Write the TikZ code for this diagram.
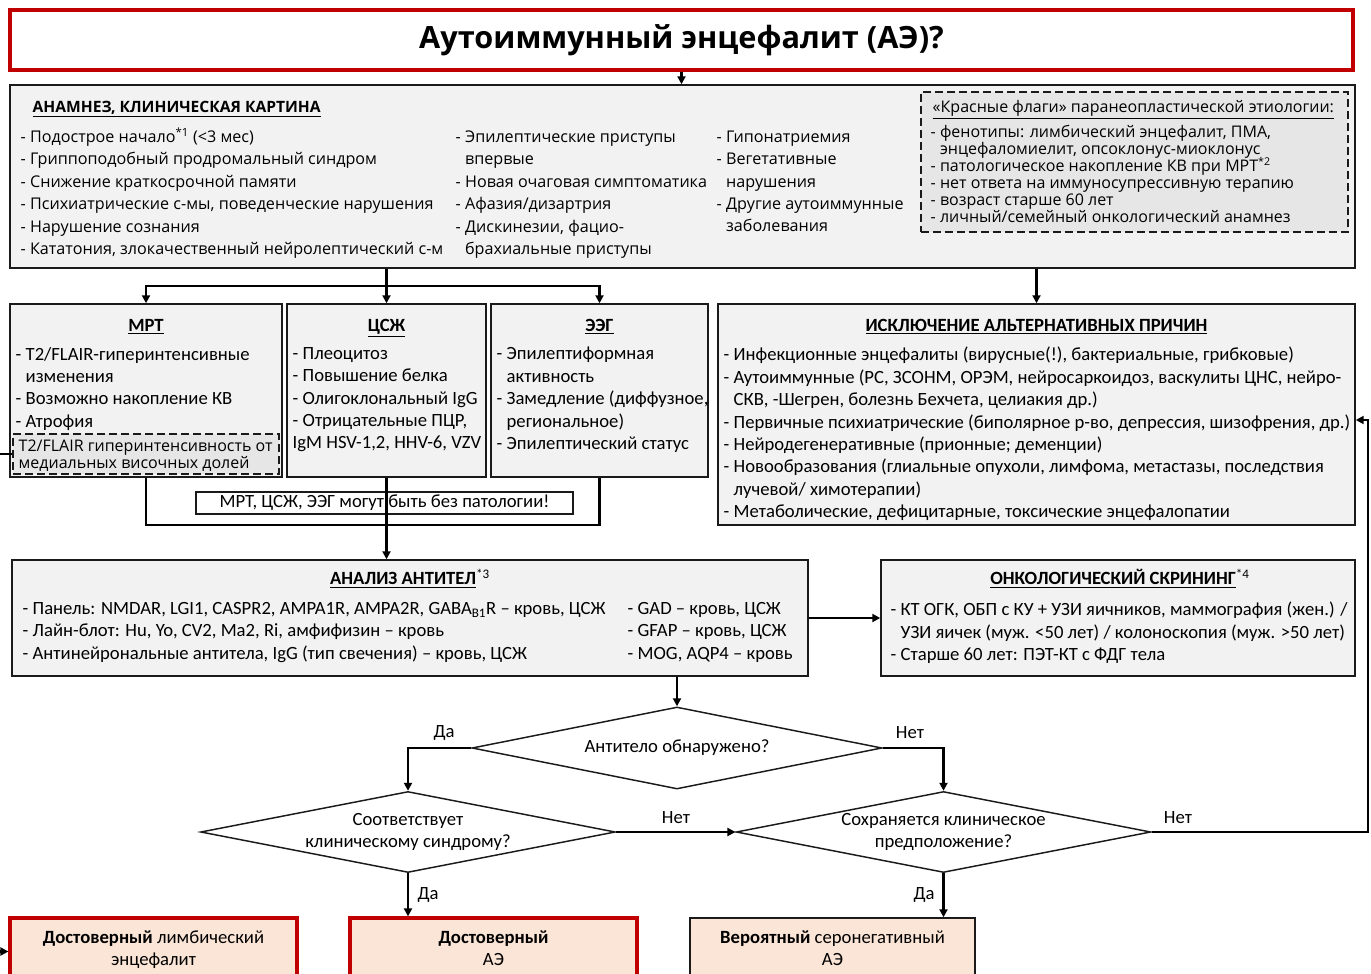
\documentclass[tikz,border=0pt]{standalone}
\usepackage{fontspec}
\setmainfont{Carlito}
\newfontfamily\segoe{Open Sans}
\usetikzlibrary{arrows.meta, shapes.geometric, fit}
\definecolor{cred}{HTML}{C00000}
\definecolor{cfill}{HTML}{F2F2F2}
\definecolor{cflag}{HTML}{E6E6E6}
\definecolor{cpeach}{HTML}{FBE5D6}
\definecolor{cdark}{HTML}{1A1A1A}
\newcommand\indl{\phantom{- }}
\newcommand\fnref[1]{\smash{\textsuperscript{#1}}}
\tikzset{
  every picture/.style={line width=1.1pt},
  box/.style={draw=cdark, fill=#1, inner sep=0pt, align=center},
  box/.default=cfill,
  redbox/.style={box=cpeach, draw=cred, line width=2.4pt},
  dbox/.style={box=cflag, dash pattern=on 6pt off 3pt},
  txt/.style={inner sep=0pt, anchor=north west, align=left, font=\fontsize{14}{16.8}\selectfont, execute at begin node=\strut},
  seg/.style={txt, font=\segoe\fontsize{12.1}{16.8}\selectfont},
  flag/.style={txt, font=\segoe\fontsize{12}{12.75}\selectfont},
  head/.style={txt, anchor=north, font=\bfseries\fontsize{14}{16.8}\selectfont},
  dia/.style={draw=cdark, diamond, aspect=5, inner sep=0pt, align=center, font=\fontsize{14}{16.8}\selectfont},
  arrow/.style={-{Triangle[length=6pt, width=6pt]}, line width=1.9pt},
  line/.style={line width=1.9pt},
  lbl/.style={inner sep=0pt, font=\fontsize{14}{16.8}\selectfont},
}

\begin{document}
\begin{tikzpicture}[x=0.75pt, y=-0.75pt]
  \useasboundingbox (0,0) rectangle (1371,974);
  \node[box=white, draw=cred, line width=2.8pt, fit={(10,10) (1353,70)}] (title) {};
  \node[inner sep=0pt, font=\segoe\bfseries\fontsize{23}{27}\selectfont] (titlet) at (681.5,40) {Аутоиммунный энцефалит (АЭ)?};

  % anamnesis
  \node[box, fit={(10,85) (1355,268)}] (anam) {};
  \node[seg, font=\segoe\bfseries\fontsize{11.7}{16.8}\selectfont] (anamhd) at (32,96) {\underline{АНАМНЕЗ, КЛИНИЧЕСКАЯ КАРТИНА}};
  \node[seg] (anam1) at (20,130) {- Подострое начало\fnref{*1} (<3 мес)\\- Гриппоподобный продромальный синдром\\- Снижение краткосрочной памяти\\- Психиатрические с-мы, поведенческие нарушения\\- Нарушение сознания\\- Кататония, злокачественный нейролептический с-м};
  \node[seg] (anam2) at (455,130) {- Эпилептические приступы\\\indl впервые\\- Новая очаговая симптоматика\\- Афазия/дизартрия\\- Дискинезии, фацио-\\\indl брахиальные приступы};
  \node[seg] (anam3) at (716,130) {- Гипонатриемия\\- Вегетативные\\\indl нарушения\\- Другие аутоиммунные\\\indl заболевания};
  \node[dbox, fit={(921,92) (1348,232)}] (flags) {};
  \node[flag] (flagshd) at (932,99.5) {\underline{«Красные флаги» паранеопластической этиологии:}};
  \node[flag] (flags1) at (930,124.5) {- фенотипы: лимбический энцефалит, ПМА,\\\indl энцефаломиелит, опсоклонус-миоклонус\\- патологическое накопление КВ при МРТ\fnref{*2}\\- нет ответа на иммуносупрессивную терапию\\- возраст старше 60 лет\\- личный/семейный онкологический анамнез};

  % investigations
  \node[box, fit={(10,304) (282,477)}] (mrt) {};
  \node[box, fit={(287,304) (486,477)}] (csf) {};
  \node[box, fit={(491,304) (708,477)}] (eeg) {};
  \node[box, fit={(718,304) (1355,525)}] (excl) {};
  \node[head] (mrthd) at (146,315) {\underline{МРТ}};
  \node[head] (csfhd) at (386.5,315) {\underline{ЦСЖ}};
  \node[head] (eeghd) at (599.5,315) {\underline{ЭЭГ}};
  \node[head] (exclhd) at (1036.5,315) {\underline{ИСКЛЮЧЕНИЕ АЛЬТЕРНАТИВНЫХ ПРИЧИН}};
  \node[txt] (mrt1) at (15,346.5) {- T2/FLAIR-гиперинтенсивные\\\indl изменения\\- Возможно накопление КВ\\- Атрофия};
  \node[dbox, fit={(13,434) (279,474)}] (mtl) {};
  \node[flag] (mtl1) at (18,439.5) {T2/FLAIR гиперинтенсивность от\\медиальных височных долей};
  \node[txt] (csf1) at (292,346.5) {- Плеоцитоз\\- Повышение белка\\- Олигоклональный IgG\\- Отрицательные ПЦР,\\IgM HSV-1,2, HHV-6, VZV};
  \node[txt] (eeg1) at (496,346.5) {- Эпилептиформная\\\indl активность\\- Замедление (диффузное,\\\indl региональное)\\- Эпилептический статус};
  \node[txt] (excl1) at (723,346.5) {- Инфекционные энцефалиты (вирусные(!), бактериальные, грибковые)\\- Аутоиммунные (РС, ЗСОНМ, ОРЭМ, нейросаркоидоз, васкулиты ЦНС, нейро-\\\indl СКВ, -Шегрен, болезнь Бехчета, целиакия др.)\\- Первичные психиатрические (биполярное р-во, депрессия, шизофрения, др.)\\- Нейродегенеративные (прионные; деменции)\\- Новообразования (глиальные опухоли, лимфома, метастазы, последствия\\\indl лучевой/ химотерапии)\\- Метаболические, дефицитарные, токсические энцефалопатии};
  \node[box=white, line width=0.8pt, fit={(196,492) (573,514)}] (note) {};
  \node[lbl] (notet) at (384.5,503) {МРТ, ЦСЖ, ЭЭГ могут быть без патологии!};

  % antibodies, screening
  \node[box, fit={(12,560) (808,676)}] (ab) {};
  \node[box, fit={(881,560) (1355,676)}] (onc) {};
  \node[head] (abhd) at (410,568) {\underline{АНАЛИЗ АНТИТЕЛ}\textsuperscript{\mdseries*3}};
  \node[head] (onchd) at (1120,568) {\underline{ОНКОЛОГИЧЕСКИЙ СКРИНИНГ}\textsuperscript{\mdseries*4}};
  \node[txt] (ab1) at (22,601.5) {- Панель: NMDAR, LGI1, CASPR2, AMPA1R, AMPA2R, GABA\textsubscript{B1}R – кровь, ЦСЖ\\- Лайн-блот: Hu, Yo, CV2, Ma2, Ri, амфифизин – кровь\\- Антинейрональные антитела, IgG (тип свечения) – кровь, ЦСЖ};
  \node[txt] (ab2) at (627,601.5) {- GAD – кровь, ЦСЖ\\- GFAP – кровь, ЦСЖ\\- MOG, AQP4 – кровь};
  \node[txt] (onc1) at (890,601.5) {- КТ ОГК, ОБП с КУ + УЗИ яичников, маммография (жен.) /\\\indl УЗИ яичек (муж. <50 лет) / колоноскопия (муж. >50 лет)\\- Старше 60 лет: ПЭТ-КТ с ФДГ тела};

  % decisions
  \node[dia, minimum width=307.5pt, minimum height=61.5pt] (d1) at (677,748) {Антитело обнаружено?};
  \node[dia, minimum width=311pt, minimum height=60.75pt] (d2) at (408,832) {Соответствует\\клиническому синдрому?};
  \node[dia, minimum width=311pt, minimum height=60.75pt] (d3) at (943.5,832) {Сохраняется клиническое\\предположение?};

  % outcomes
  \node[redbox, fit={(10,918) (297,985)}] (lim) {};
  \node[redbox, fit={(350,918) (637,985)}] (ae) {};
  \node[box=cpeach, fit={(690,918) (975,985)}] (sero) {};
  \node[txt, anchor=north, align=center] (limt) at (153.5,930) {\textbf{Достоверный} лимбический\\энцефалит};
  \node[txt, anchor=north, align=center] (aet) at (493.5,930) {\textbf{Достоверный}\\АЭ};
  \node[txt, anchor=north, align=center] (serot) at (832.5,930) {\textbf{Вероятный} серонегативный\\АЭ};

  % connectors
  \coordinate (j1) at (386.5,286);
  \coordinate (j2) at (386.5,525);
  \coordinate (lft) at (-3,0);
  \coordinate (rgt) at (1368,420);
  \draw[arrow] (title.south) -- (title.south |- anam.north);
  \draw[line] (anam.south -| j1) -- (j1);
  \draw[arrow] (j1) -| (mrt.north);
  \draw[arrow] (j1) -| (eeg.north);
  \draw[arrow] (j1) -- (csf.north);
  \draw[arrow] (anam.south -| excl.north) -- (excl.north);
  \draw[line] (mrt.south) |- (j2) -| (eeg.south);
  \draw[arrow] (csf.south) -- (csf.south |- ab.north);
  \draw[arrow] (ab.east) -- (onc.west);
  \draw[arrow] (ab.south -| d1.north) -- (d1.north);
  \draw[arrow] (d1.west) -| (d2.north);
  \draw[arrow] (d1.east) -| (d3.north);
  \draw[arrow] (d2.east) -- (d3.west);
  \draw[arrow] (d3.east) -| (rgt) -- (rgt -| excl.east);
  \draw[arrow] (d2.south) -- (d2.south |- ae.north);
  \draw[arrow] (d3.south) -- (d3.south |- sero.north);
  \draw[arrow] (mtl.west) -- (mtl.west -| lft) |- (lim.west);
  \node[lbl] (yes1) at (444,733) {Да};
  \node[lbl] (no1) at (910,733) {Нет};
  \node[lbl] (no2) at (676,818) {Нет};
  \node[lbl] (no3) at (1178,818) {Нет};
  \node[lbl] (yes2) at (428,895) {Да};
  \node[lbl] (yes3) at (924,895) {Да};
\end{tikzpicture}
\end{document}
